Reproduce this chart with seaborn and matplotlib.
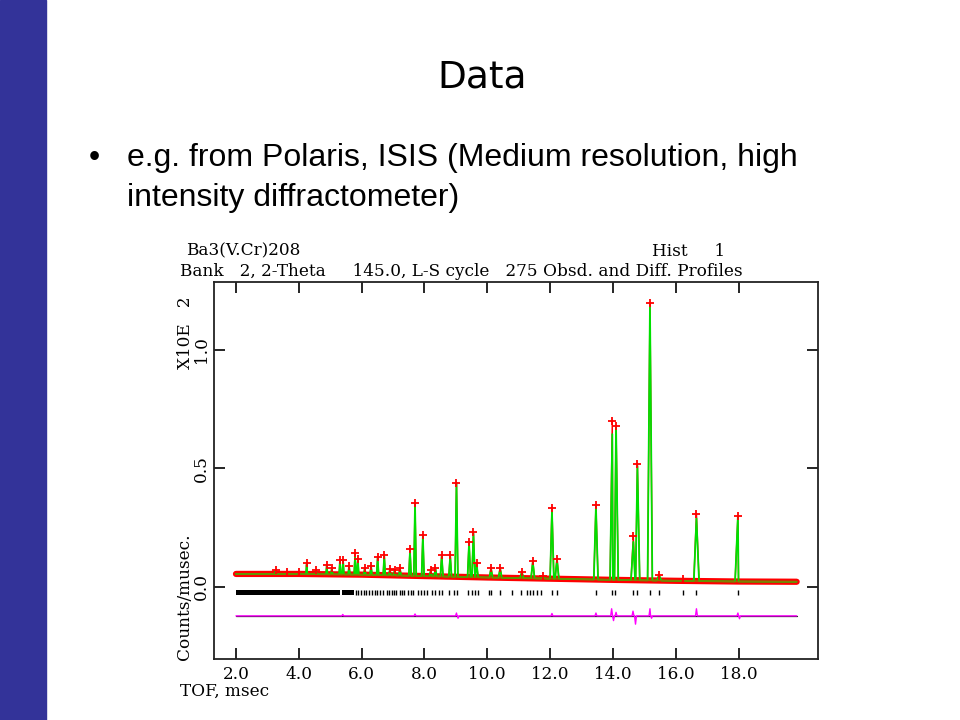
import numpy as np
import pandas as pd
import matplotlib
matplotlib.use("Agg")
import matplotlib.pyplot as plt
import seaborn as sns

# ---------------- data ----------------
# background level (counts/musec, x100) at a few TOF values (msec)
bg_tof = [2.0, 4.0, 6.0, 8.0, 10.0, 12.0, 14.0, 16.0, 18.0, 19.85]
bg_cnt = [0.055, 0.055, 0.052, 0.046, 0.040, 0.035, 0.030, 0.026, 0.023, 0.022]

# peak positions (msec), observed tops and calculated tops
peak_tof = [3.26, 3.62, 4.02, 4.25, 4.55, 4.89, 5.05, 5.31, 5.41, 5.60, 5.79, 5.88,
            6.10, 6.30, 6.51, 6.72, 6.90, 7.05, 7.22, 7.54, 7.70, 7.95, 8.20, 8.35,
            8.55, 8.82, 9.02, 9.42, 9.56, 9.66, 10.12, 10.41, 11.10, 11.45, 11.78,
            12.06, 12.22, 13.46, 13.98, 14.10, 14.65, 14.78, 15.18, 15.47, 16.22,
            16.66, 17.98]
obs_top = [0.070, 0.065, 0.065, 0.100, 0.070, 0.093, 0.080, 0.114, 0.114, 0.090, 0.143, 0.120,
           0.080, 0.090, 0.127, 0.135, 0.075, 0.070, 0.080, 0.160, 0.354, 0.220, 0.070, 0.080,
           0.135, 0.135, 0.440, 0.190, 0.230, 0.100, 0.080, 0.080, 0.065, 0.110, 0.045,
           0.335, 0.120, 0.345, 0.700, 0.680, 0.215, 0.520, 1.200, 0.050, 0.035,
           0.310, 0.300]
calc_top = [0.068, 0.063, 0.063, 0.095, 0.068, 0.090, 0.078, 0.110, 0.110, 0.088, 0.125, 0.115,
            0.078, 0.088, 0.122, 0.130, 0.073, 0.068, 0.078, 0.150, 0.350, 0.215, 0.068, 0.078,
            0.130, 0.130, 0.440, 0.185, 0.225, 0.098, 0.078, 0.078, 0.063, 0.105, 0.043,
            0.320, 0.115, 0.340, 0.645, 0.680, 0.190, 0.510, 1.190, 0.048, 0.033,
            0.290, 0.300]

# reflection tick marks
dense_start = [2.00, 5.36]
dense_end = [5.30, 5.75]
refl_tof = [5.82, 5.90, 5.97, 6.06, 6.13, 6.22, 6.32, 6.41, 6.50, 6.59, 6.69, 6.80, 6.87,
            6.96, 7.03, 7.11, 7.22, 7.30, 7.36, 7.49, 7.56, 7.65, 7.81, 7.88, 7.99, 8.07,
            8.25, 8.34, 8.47, 8.57, 8.79, 8.94, 9.05, 9.40, 9.50, 9.61, 9.72, 10.04, 10.12,
            10.41, 10.78, 11.08, 11.26, 11.36, 11.45, 11.58, 11.72, 12.06, 12.22, 13.46,
            13.98, 14.08, 14.65, 14.76, 15.17, 15.47, 16.22, 16.66, 17.98]

# difference curve
diff_base = -0.122
diff_tof = [5.40, 7.70, 9.02, 9.07, 12.06, 13.46, 13.96, 14.02, 14.10, 14.64, 14.72,
            15.18, 15.23, 16.66, 17.98, 18.03]
diff_amp = [0.006, 0.008, 0.012, -0.010, 0.010, 0.012, 0.030, -0.020, 0.015, 0.020, -0.035,
            0.030, -0.010, 0.030, 0.012, -0.012]

x_ticks = [2.0, 4.0, 6.0, 8.0, 10.0, 12.0, 14.0, 16.0, 18.0]
y_ticks = [0.0, 0.5, 1.0]

# ---------------- build line tables ----------------
rel_w = 0.005  # peak half-width relative to TOF (shape style)
bg_at = lambda t: np.interp(t, bg_tof, bg_cnt)

def profile(tops):
    xs = list(bg_tof)
    ys = list(bg_cnt)
    for p, h in zip(peak_tof, tops):
        w = rel_w * p
        xs += [p - w, p, p + w]
        ys += [float(bg_at(p - w)), h, float(bg_at(p + w))]
    df = pd.DataFrame({"tof": xs, "cnt": ys}).sort_values("tof", kind="stable")
    return df

calc_df = profile(calc_top)
obs_df = profile(obs_top)
bg_df = pd.DataFrame({"tof": bg_tof, "cnt": bg_cnt})

dx, dy = [2.0, 19.85], [diff_base, diff_base]
for p, a in zip(diff_tof, diff_amp):
    dx += [p - 0.03, p, p + 0.03]
    dy += [diff_base, diff_base + a, diff_base]
diff_df = pd.DataFrame({"tof": dx, "cnt": dy}).sort_values("tof", kind="stable")
top_df = pd.DataFrame({"tof": peak_tof, "cnt": obs_top})

# ---------------- figure ----------------
sns.set_theme(style="white")
plt.rcParams['font.family'] = ['DejaVu Sans']
plt.rcParams['text.color'] = 'black'

fig = plt.figure(figsize=(9.6, 7.2), dpi=100)
fig.patch.set_facecolor("white")
fig.add_artist(plt.Rectangle((0, 0), 46 / 960, 1, transform=fig.transFigure,
                             color="#333399", zorder=0))
fig.text(482 / 960, 1 - 77 / 720, "Data", ha="center", va="center", fontsize=27,
         family=["DejaVu Sans"], color="black")
sans = ["Liberation Sans"]
fig.text(89 / 960, 1 - 166 / 720, "•", ha="left", va="baseline", fontsize=23,
         family=sans, color="black")
fig.text(127 / 960, 1 - 166 / 720, "e.g. from Polaris, ISIS (Medium resolution, high",
         ha="left", va="baseline", fontsize=23, family=sans, color="black")
fig.text(127 / 960, 1 - 206 / 720, "intensity diffractometer)",
         ha="left", va="baseline", fontsize=23, family=sans, color="black")

serif = ["DejaVu Serif"]
fs = 12.2
fig.text(186 / 960, 1 - 251 / 720, "Ba3(V.Cr)208", ha="left", va="center",
         fontsize=fs, family=serif, color="black")
fig.text(652 / 960, 1 - 251 / 720, "Hist     1", ha="left", va="center",
         fontsize=fs, family=serif, color="black")
fig.text(180 / 960, 1 - 271 / 720,
         "Bank   2, 2-Theta     145.0, L-S cycle   275 Obsd. and Diff. Profiles",
         ha="left", va="center", fontsize=fs, family=serif, color="black")
fig.text(180 / 960, 1 - 691 / 720, "TOF, msec", ha="left", va="center",
         fontsize=fs, family=serif, color="black")
fig.text(185 / 960, 1 - 333 / 720, "X10E   2", ha="center", va="center",
         rotation=90, fontsize=fs, family=serif, color="black")
fig.text(185 / 960, 1 - 597 / 720, "Counts/musec.", ha="center", va="center",
         rotation=90, fontsize=fs, family=serif, color="black")

ax = fig.add_axes([214 / 960, 1 - 659 / 720, 604 / 960, 377 / 720])
ax.set_facecolor("white")

# observed background band (red, dense obs points)
sns.lineplot(data=bg_df, x="tof", y="cnt", ax=ax, color="#ff0000", lw=4.5,
             estimator=None, sort=True, zorder=2)
sns.lineplot(data=obs_df, x="tof", y="cnt", ax=ax, color="#ff0000", lw=1.0,
             estimator=None, sort=False, zorder=3)
sns.lineplot(data=calc_df, x="tof", y="cnt", ax=ax, color="#00e000", lw=1.3,
             estimator=None, sort=False, zorder=4)
sns.lineplot(data=bg_df, x="tof", y="cnt", ax=ax, color="#808000", lw=1.0,
             estimator=None, sort=True, zorder=4)
ax.plot(top_df["tof"], top_df["cnt"], ls="none", marker="+", ms=6, mew=1.3,
        color="#ff0000", zorder=5)

# reflection markers
for s, e in zip(dense_start, dense_end):
    ax.fill_between([s, e], -0.033, -0.012, color="black", lw=0, zorder=3)
ax.vlines(refl_tof, -0.033, -0.012, color="black", lw=1.0, zorder=3)

# difference curve
ax.plot([2.0, 19.85], [diff_base, diff_base], color="#202020", lw=0.9, zorder=3)
sns.lineplot(data=diff_df, x="tof", y="cnt", ax=ax, color="#ff00ff", lw=1.0,
             estimator=None, sort=False, zorder=4)

ax.set_xlim(1.30, 20.53)
ax.set_ylim(-0.304, 1.287)
ax.set_xticks(x_ticks)
ax.set_xticklabels([f"{v:.1f}" for v in x_ticks], family=serif, fontsize=fs)
ax.set_yticks(y_ticks)
ax.set_yticklabels([f"{v:.1f}" for v in y_ticks], family=serif, fontsize=fs,
                   rotation=90, va="center")
ax.tick_params(direction="in", length=8, width=1.2, top=True, right=True,
               left=True, bottom=True, colors="black", labelcolor="black")
ax.tick_params(axis="x", pad=5)
ax.tick_params(axis="y", pad=3)
ax.set_xlabel("")
ax.set_ylabel("")
for sp in ax.spines.values():
    sp.set_visible(True)
    sp.set_color("#222222")
    sp.set_linewidth(1.3)

fig.savefig("out.png", dpi=100, facecolor="white")
